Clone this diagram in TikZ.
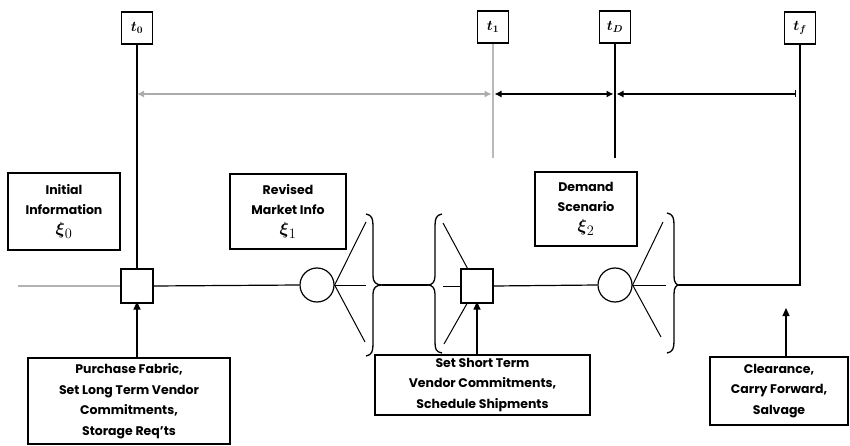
\documentclass[tikz,border=0pt]{standalone}
\usepackage{amsmath}
\usepackage{fontspec}
\setmainfont{Poppins}
\usetikzlibrary{arrows.meta}
\newcommand{\bigxi}[1]{{\fontsize{19}{20}\selectfont$\boldsymbol{\xi}_{#1}$}}
\begin{document}
\begin{tikzpicture}[x=1pt,y=-1pt,
  ln/.style={line width=1.2pt},
  tbox/.style={draw,line width=1.2pt,minimum width=31pt,minimum height=32pt,inner sep=0pt,font=\boldmath\Large},
  infobox/.style={draw,line width=1.3pt,align=center,inner sep=2pt,font=\bfseries\fontsize{12.5}{20}\selectfont},
  actbox/.style={draw,line width=1.3pt,align=center,inner sep=2pt,font=\bfseries\fontsize{12.5}{20.5}\selectfont},
  sq/.style={draw,fill=white,line width=1.2pt,minimum width=32pt,minimum height=34pt,inner sep=0pt},
  dec/.style={draw,fill=white,circle,line width=1.2pt,minimum size=34pt,inner sep=0pt},
  brace/.style={line width=1.3pt},
  fan/.style={line width=1pt},
  up/.style={ln,-{Triangle[width=7pt,length=8pt]}},
  dim/.style={line width=1.1pt,{Latex[width=7pt,length=7pt]}-{Latex[width=7pt,length=7pt]}}]
\useasboundingbox (0,0) rectangle (850,446);

% time boxes
\node[tbox] (T0) at (137,28) {$t_0$};
\node[tbox] (T1) at (493,27) {$t_1$};
\node[tbox] (TD) at (615,27) {$t_D$};
\node[tbox] (TF) at (800,28) {$t_f$};

% squares and circles (positions)
\coordinate (S2c) at (477,286);
\node[sq] (S1) at (137,286) {};

% vertical time lines
\coordinate (lowT1) at (493,158);
\coordinate (lowTD) at (615,158);
\draw[ln] (T0.south) -- (S1.north);
\draw[ln,gray!55] (T1.south) -- (lowT1);
\draw[ln] (TD.south) -- (lowTD);

% dimension line
\coordinate (dy) at (0,94);
\coordinate (dend) at (796,94);
\draw[dim,gray!65] (T0.south |- dy) -- ([xshift=-1.5pt]T1.south |- dy);
\draw[dim] ([xshift=1.5pt]T1.south |- dy) -- ([xshift=-1.5pt]TD.south |- dy);
\draw[line width=1.1pt,{Latex[width=7pt,length=7pt]}-{Bar[width=7pt]}] ([xshift=1.5pt]TD.south |- dy) -- (dend);

% main line
\coordinate (ML) at (18,286);
\draw[ln,gray!60] (ML) -- (S1.west);
\node[dec] (C1) at (317,285) {};
\draw[ln] (S1.east) -- (C1.west);

% fan 1 (circle 1 -> right brace)
\coordinate (B1tip) at (382,285);
\coordinate (f1a) at (366,222);
\coordinate (f1b) at (366,285);
\coordinate (f1c) at (365,342);
\draw[fan] (C1.east) -- (f1a);
\draw[fan] (C1.east) -- (f1b);
\draw[fan] (C1.east) -- (f1c);
\draw[brace] (366,214) .. controls (372,215) and (373,219) .. (373,226) -- (373,276)
  .. controls (373,282) and (376,285) .. (B1tip) .. controls (376,285) and (373,288) .. (373,294)
  -- (373,344) .. controls (373,351) and (372,355) .. (366,356);

% left brace before square 2
\coordinate (B2tip) at (428,285);
\draw[ln] (B1tip) -- (B2tip);
\draw[brace] (442,214) .. controls (436,215) and (435,219) .. (435,226) -- (435,276)
  .. controls (435,282) and (432,285) .. (B2tip) .. controls (432,285) and (435,288) .. (435,294)
  -- (435,342) .. controls (435,349) and (436,352) .. (442,353);
\coordinate (f2a) at (443,223);
\coordinate (f2b) at (443,286);
\coordinate (f2c) at (444,344);
\draw[fan] (f2a) -- (S2c);
\draw[fan] (f2b) -- (S2c);
\draw[fan] (f2c) -- (S2c);
\node[sq] (S2) at (S2c) {};

% circle 2 and fan
\node[dec] (C2) at (615,285) {};
\draw[ln] (S2.east) -- (C2.west);
\coordinate (B3tip) at (679,285);
\coordinate (f3a) at (663,222);
\coordinate (f3b) at (666,285);
\coordinate (f3c) at (661,337);
\draw[fan] (C2.east) -- (f3a);
\draw[fan] (C2.east) -- (f3b);
\draw[fan] (C2.east) -- (f3c);
\draw[brace] (667,213) .. controls (673,214) and (674,218) .. (674,225) -- (674,276)
  .. controls (674,282) and (676,285) .. (B3tip) .. controls (676,285) and (674,288) .. (674,294)
  -- (674,341) .. controls (674,348) and (673,352) .. (667,353);

% final line up to t_f
\draw[line width=1.7pt] (B3tip) -- (TF.south |- B3tip) -- (TF.south);

% information boxes
\node[infobox,minimum width=112pt,minimum height=77pt] (I0) at (64,211.5) {Initial\\Information\\\bigxi{0}};
\node[infobox,minimum width=116pt,minimum height=75pt] (I1) at (288,211.5) {Revised\\Market Info\\\bigxi{1}};
\node[infobox,minimum width=102pt,minimum height=74pt] (I2) at (586,209) {Demand\\Scenario\\\bigxi{2}};

% action boxes
\node[actbox,minimum width=202pt,minimum height=86pt] (P1) at (129,401) {Purchase Fabric,\\Set Long Term Vendor\\Commitments,\\Storage Req'ts};
\node[actbox,minimum width=215pt,minimum height=60pt] (P2) at (482.5,385) {Set Short Term\\Vendor Commitments,\\Schedule Shipments};
\node[actbox,minimum width=138pt,minimum height=68pt] (P3) at (779,391) {Clearance,\\Carry Forward,\\Salvage};

% arrows
\coordinate (a3) at (786,308);
\draw[up] (P1.north -| S1) -- ([yshift=2pt]S1.south);
\draw[up] (P2.north -| S2) -- ([yshift=2pt]S2.south);
\draw[up] (P3.north -| a3) -- (a3);
\end{tikzpicture}
\end{document}
